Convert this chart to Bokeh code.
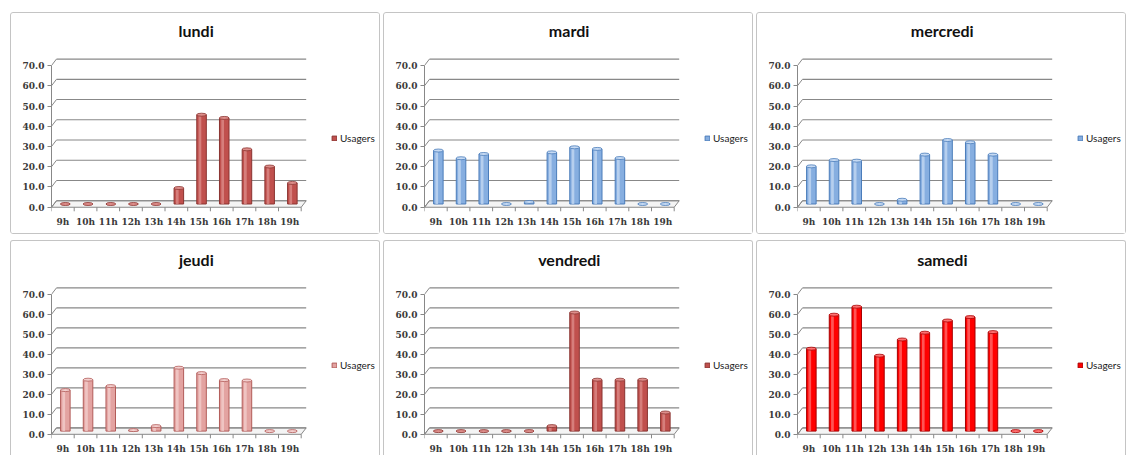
from bokeh.plotting import figure
from bokeh.layouts import column, row
from bokeh.models import (Range1d, FixedTicker, Legend, LegendItem, ColumnDataSource,
                          NumeralTickFormatter)
from bokeh.transform import dodge
from bokeh.embed import file_html
from bokeh.resources import INLINE
from bokeh.core.properties import value

# ---------------- data ----------------
hours = ["9h", "10h", "11h", "12h", "13h", "14h", "15h", "16h", "17h", "18h", "19h"]
days = ["lundi", "mardi", "mercredi", "jeudi", "vendredi", "samedi"]
series_name = "Usagers"
lundi = [0, 0, 0, 0, 0, 7.9, 44.1, 42.5, 27.0, 18.5, 10.4]
mardi = [26.4, 22.6, 24.7, 0, 1.0, 25.5, 28.0, 27.2, 22.7, 0, 0]
mercredi = [18.6, 21.7, 21.4, 0, 2.1, 24.4, 31.6, 30.5, 24.4, 0, 0]
jeudi = [20.5, 25.7, 22.5, 0.5, 2.5, 31.7, 29.0, 25.5, 25.3, 0, 0]
vendredi = [0, 0, 0, 0, 0, 2.5, 59.3, 25.7, 25.7, 25.7, 9.3]
samedi = [41.2, 58.2, 62.2, 37.7, 45.8, 49.2, 55.3, 57.0, 49.5, 0, 0]
y_ticks = [0, 10, 20, 30, 40, 50, 60, 70]

values_by_day = [lundi, mardi, mercredi, jeudi, vendredi, samedi]

# styles (base, dark edge, light highlight)
palettes = [
    ("#C0504D", "#8A3330", "#DE8E8B"),
    ("#86AEE0", "#4A7CBA", "#C6DAF3"),
    ("#86AEE0", "#4A7CBA", "#C6DAF3"),
    ("#E3A3A1", "#B25C59", "#F3CFCE"),
    ("#C0504D", "#8A3330", "#DE8E8B"),
    ("#FF0000", "#A80000", "#FF7070"),
]

DX = 0.22     # depth offset in category units
DY = 3.2      # depth offset in value units
BW = 0.42     # bar width
GRID = "#888888"
TICK_FONT = "DejaVu Serif"
W = 370
FRAME_L = 40
PX_PER_CAT = 22.7
TITLE_PX = 16

# approximate advance widths (em) of Lato Bold, used to centre the title on the panel
_EM = {"a": .52, "c": .47, "d": .57, "e": .53, "i": .26, "j": .26, "l": .27, "m": .86,
       "n": .57, "r": .37, "s": .42, "u": .57, "v": .52}


def title_offset(text):
    w = sum(_EM.get(ch, .55) for ch in text) * TITLE_PX
    return (W / 2 - FRAME_L) - w / 2


def make_panel(day, vals, pal, height, last_row):
    base, dark, light = pal
    n = len(hours)
    xs = list(range(n))
    src = ColumnDataSource(dict(x=xs, v=vals, h=hours))
    shift = 1 if last_row else 0
    frame_top = 35 + shift
    frame_bottom = 199 + shift
    p = figure(width=W, height=height, output_backend="svg", toolbar_location=None,
               x_range=Range1d(-0.5, -0.5 + (W - FRAME_L) / PX_PER_CAT),
               y_range=Range1d(-2.6, 78.4),
               min_border_left=FRAME_L, min_border_right=0, min_border_top=frame_top,
               min_border_bottom=height - frame_bottom,
               tools="")
    p.title.text = day
    p.title.align = "left"
    p.title.vertical_align = "top"
    p.title.offset = title_offset(day)
    p.title.text_font = "Lato"
    p.title.text_font_style = "bold"
    p.title.text_font_size = f"{TITLE_PX}px"
    p.title.text_color = "#111111"
    p.title.standoff = 13
    p.outline_line_color = None
    p.xgrid.visible = False
    p.ygrid.visible = False
    p.background_fill_color = "white"
    p.border_fill_color = "white"
    border = {"border": "1px solid #C4C4C4", "border-radius": "3px",
              "box-sizing": "border-box"}
    if last_row:
        border = {"border-left": "1px solid #C4C4C4", "border-right": "1px solid #C4C4C4",
                  "border-top": "1px solid #C4C4C4", "border-radius": "3px 3px 0 0",
                  "box-sizing": "border-box"}
    p.styles = border

    # y axis
    ya = p.yaxis[0]
    ya.ticker = FixedTicker(ticks=y_ticks)
    ya.formatter = NumeralTickFormatter(format="0.0")
    ya.bounds = (y_ticks[0], y_ticks[-1])
    ya.axis_line_color = GRID
    ya.major_tick_line_color = GRID
    ya.major_tick_out = 4
    ya.major_tick_in = 0
    ya.minor_tick_line_color = None
    ya.major_label_text_font = TICK_FONT
    ya.major_label_text_font_style = "bold"
    ya.major_label_text_font_size = "9px"
    ya.major_label_text_color = "#3A3A3A"
    ya.major_label_standoff = 3

    # x axis
    xa = p.xaxis[0]
    xa.ticker = FixedTicker(ticks=xs)
    xa.major_label_overrides = {i: h for i, h in zip(xs, hours)}
    xa.axis_line_color = None
    xa.major_tick_line_color = None
    xa.major_tick_out = 0
    xa.major_tick_in = 0
    xa.minor_tick_line_color = None
    xa.minor_tick_out = 0
    xa.major_label_text_font = TICK_FONT
    xa.major_label_text_font_style = "bold"
    xa.major_label_text_font_size = "9px"
    xa.major_label_text_color = "#3A3A3A"
    xa.major_label_standoff = 4

    xL, xR = -0.5, n - 0.5
    # floor
    p.patch([xL, xR, xR + DX, xL + DX], [0, 0, DY, DY], fill_color="#F4F4F4",
            line_color=GRID, line_width=1)
    # back wall gridlines
    p.segment(x0=[xL + DX] * len(y_ticks), y0=[t + DY for t in y_ticks],
              x1=[xR + DX] * len(y_ticks), y1=[t + DY for t in y_ticks],
              line_color=GRID, line_width=1.2)
    # left wall diagonals
    p.segment(x0=[xL] * len(y_ticks), y0=y_ticks,
              x1=[xL + DX] * len(y_ticks), y1=[t + DY for t in y_ticks],
              line_color=GRID, line_width=1)
    # category tick marks
    bnds = [i - 0.5 for i in range(n + 1)]
    p.segment(x0=bnds, y0=[0] * len(bnds), x1=bnds, y1=[-2] * len(bnds),
              line_color=GRID, line_width=1)

    # bars (cylinder-like)
    main = p.vbar(x=dodge("x", DX / 2), top=dodge("v", DY / 2), bottom=DY / 2,
                  width=BW, source=src, fill_color=base, line_color=dark, line_width=1)
    p.vbar(x=dodge("x", DX / 2 - 0.07), top=dodge("v", DY / 2), bottom=DY / 2,
           width=0.12, source=src, fill_color=light, fill_alpha=0.75, line_color=None)
    p.ellipse(x=dodge("x", DX / 2), y=dodge("v", DY / 2), width=BW, height=3,
              height_units="screen", source=src, fill_color=light, line_color=dark,
              line_width=0.8)

    legend = Legend(items=[LegendItem(label=series_name, renderers=[main])],
                    location=(280, 68), padding=0, margin=0, spacing=0,
                    border_line_color=None, background_fill_alpha=0,
                    glyph_width=6, glyph_height=6, label_standoff=3,
                    label_text_font="Lato", label_text_font_size="10px",
                    label_text_color="#222222", label_height=10)
    p.add_layout(legend)
    return p


panels = []
for k, (d, vals, pal) in enumerate(zip(days, values_by_day, palettes)):
    last = k >= 3
    panels.append(make_panel(d, vals, pal, 215 if last else 222, last))

layout = column(row(panels[0], panels[1], panels[2], spacing=3),
                row(panels[3], panels[4], panels[5], spacing=3),
                spacing=6, margin=(12, 0, 0, 10))

open("out.html", "w").write(file_html(layout, INLINE))
